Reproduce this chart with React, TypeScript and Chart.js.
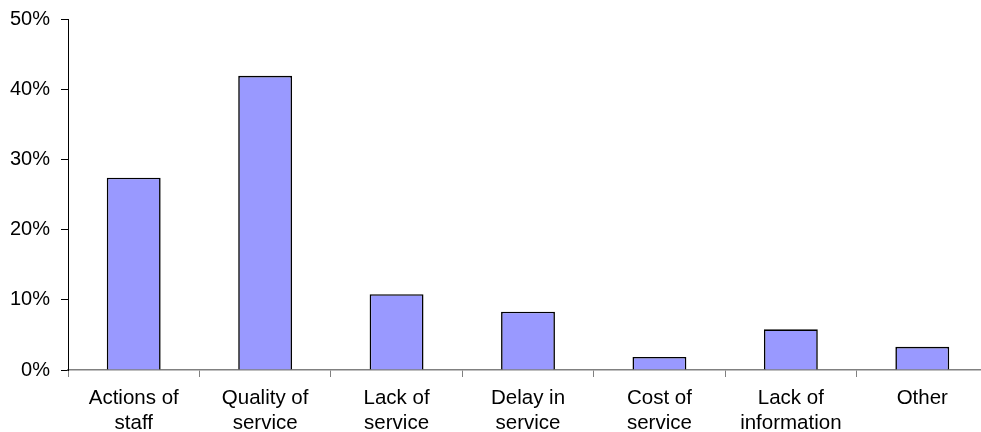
import React, { useEffect, useRef } from "react";
import { Chart, registerables } from "chart.js";

Chart.register(...registerables);

// Complaint categories (multi-line labels) and their share of responses, in percent
const categories: string[][] = [
  ["Actions of", "staff"],
  ["Quality of", "service"],
  ["Lack of", "service"],
  ["Delay in", "service"],
  ["Cost of", "service"],
  ["Lack of", "information"],
  ["Other"],
];
const shares: number[] = [27.4, 41.9, 10.8, 8.3, 1.85, 5.8, 3.3];
const yTicks: number[] = [0, 10, 20, 30, 40, 50];

const FONT = "'Liberation Sans', Arial, Helvetica, sans-serif";

export default function App() {
  const canvasRef = useRef<HTMLCanvasElement | null>(null);

  useEffect(() => {
    const canvas = canvasRef.current;
    if (!canvas) return;
    const chart = new Chart(canvas, {
      type: "bar",
      data: {
        labels: categories,
        datasets: [
          {
            data: shares,
            backgroundColor: "#9999FF",
            borderColor: "#000000",
            borderWidth: 1.6,
            categoryPercentage: 1,
            barPercentage: 0.41,
          },
        ],
      },
      options: {
        animation: false,
        responsive: false,
        maintainAspectRatio: false,
        devicePixelRatio: 1,
        layout: { padding: { top: 14, left: 0, right: 2, bottom: 0 } },
        plugins: {
          legend: { display: false },
          tooltip: { enabled: false },
        },
        scales: {
          x: {
            afterFit: (s: any) => {
              s.height = 62;
            },
            grid: {
              display: true,
              drawOnChartArea: false,
              drawTicks: true,
              tickLength: 7,
              color: "#808080",
              offset: true,
            },
            border: { display: true, color: "#808080", width: 1.5 },
            ticks: {
              color: "#000",
              font: { family: FONT, size: 20.5, lineHeight: 1.22 },
              padding: 9,
              maxRotation: 0,
              autoSkip: false,
            },
          },
          y: {
            min: 0,
            max: 50,
            afterFit: (s: any) => {
              s.width = 68;
            },
            afterBuildTicks: (s: any) => {
              s.ticks = yTicks.map((v) => ({ value: v }));
            },
            grid: {
              display: true,
              drawOnChartArea: false,
              drawTicks: true,
              tickLength: 7,
              color: "#000",
            },
            border: { display: true, color: "#000", width: 1 },
            ticks: {
              color: "#000",
              font: { family: FONT, size: 20 },
              padding: 11,
              callback: (v: any) => `${v}%`,
            },
          },
        },
      },
    });
    return () => chart.destroy();
  }, []);

  return (
    <div
      style={{
        position: "fixed",
        left: 0,
        top: -4,
        width: 990,
        height: 436,
        background: "#fff",
      }}
    >
      <canvas ref={canvasRef} width={990} height={436} />
    </div>
  );
}
